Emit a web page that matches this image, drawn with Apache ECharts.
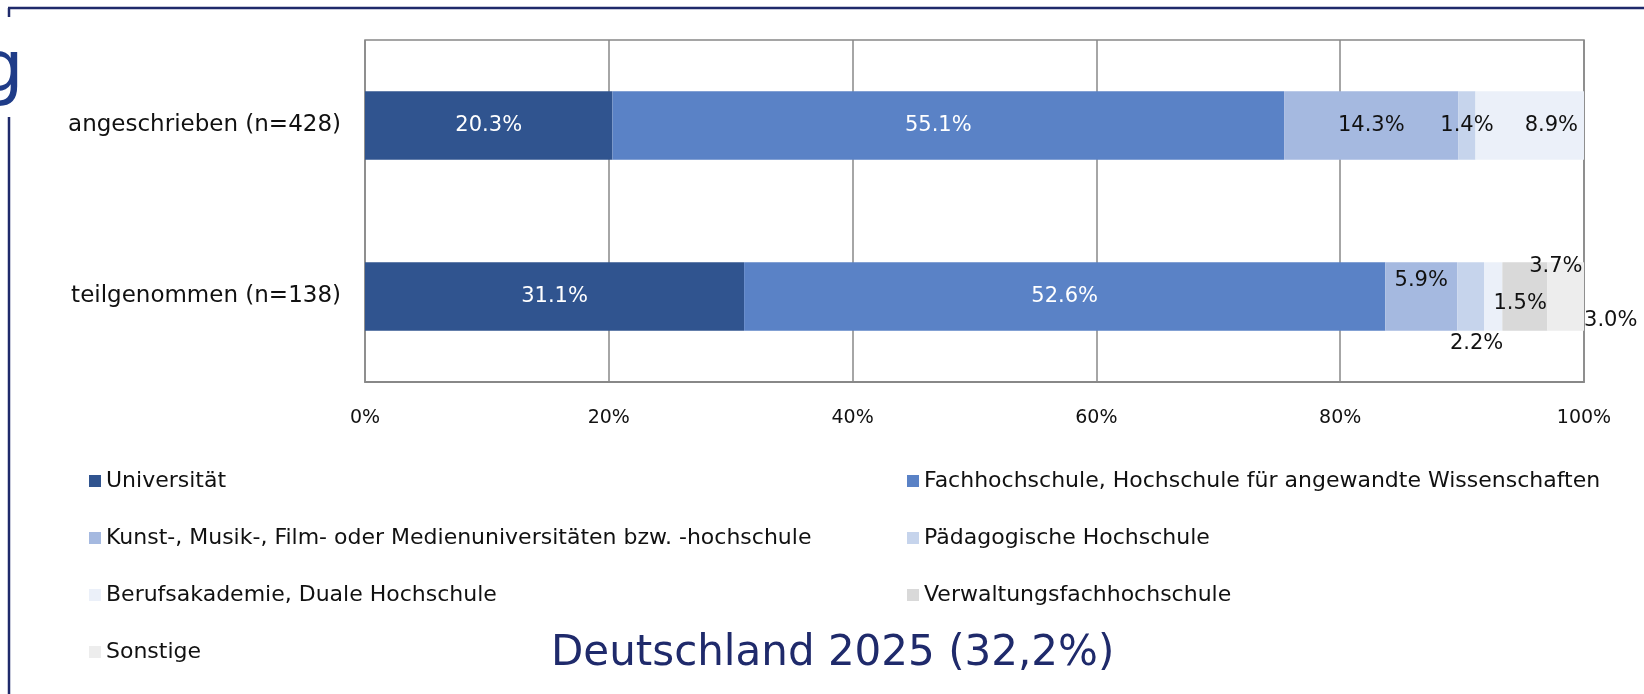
<!DOCTYPE html>
<html>
<head>
<meta charset="utf-8">
<script src="https://cdn.jsdelivr.net/npm/echarts@6/dist/echarts.min.js"></script>
<style>
html,body{margin:0;padding:0;background:#fff;}
#chart{width:1644px;height:694px;}
</style>
</head>
<body>
<div id="chart"></div>
<script>
const categories = ['angeschrieben (n=428)', 'teilgenommen (n=138)'];
const seriesNames = [
  'Universität',
  'Fachhochschule, Hochschule für angewandte Wissenschaften',
  'Kunst-, Musik-, Film- oder Medienuniversitäten bzw. -hochschule',
  'Pädagogische Hochschule',
  'Berufsakademie, Duale Hochschule',
  'Verwaltungsfachhochschule',
  'Sonstige'
];
const universitaet = [20.3, 31.1];
const fachhochschule = [55.1, 52.6];
const kunst = [14.3, 5.9];
const paedagogisch = [1.4, 2.2];
const berufsakademie = [8.9, 1.5];
const verwaltung = [0, 3.7];
const sonstige = [0, 3.0];
const xTicks = [0, 20, 40, 60, 80, 100];
const chartTitle = 'Deutschland 2025 (32,2%)';

const colors = ['#30548F', '#5A82C6', '#A5B9E0', '#C6D4EC', '#EBF0F9', '#D9D9D9', '#EDEDED'];
const labelColors = ['#ffffff', '#ffffff', '#111', '#111', '#111', '#111', '#111'];
const values = [universitaet, fachhochschule, kunst, paedagogisch, berufsakademie, verwaltung, sonstige];

// per-series, per-category label adjustments (style only)
const labelTweaks = {
  '1-0': {offset: [-10, 0]},
  '4-0': {position: 'insideRight', distance: 6},
  '2-1': {offset: [0, -16]},
  '3-1': {position: 'bottom', distance: 0, offset: [6, 2]},
  '4-1': {offset: [27, 7]},
  '5-1': {offset: [31, -30]},
  '6-1': {offset: [45, 24]}
};

const FONT = 'DejaVu Sans';

const series = seriesNames.map((name, si) => ({
  name: name,
  type: 'bar',
  stack: 'total',
  barWidth: '40%',
  itemStyle: {color: colors[si]},
  label: {
    show: true,
    position: 'inside',
    color: labelColors[si],
    fontFamily: FONT,
    fontSize: 21,
    formatter: p => p.value > 0 ? p.value.toFixed(1) + '%' : ''
  },
  data: values[si].map((v, ci) => {
    const t = labelTweaks[si + '-' + ci];
    return t ? {value: v, label: t} : v;
  })
}));

const legendText = {fontFamily: FONT, fontSize: 22, color: '#111', lineHeight: 24};

const option = {
  animation: false,
  backgroundColor: '#ffffff',
  color: colors,
  title: {
    text: chartTitle,
    left: 546,
    top: 628,
    textStyle: {fontFamily: FONT, fontSize: 42, fontWeight: 'normal', color: '#1F2A6B'}
  },
  grid: {
    left: 365, right: 60, top: 40, bottom: 312,
    show: true, borderColor: '#888', borderWidth: 1.5, backgroundColor: 'transparent'
  },
  xAxis: {
    type: 'value',
    min: 0, max: 100, interval: 20,
    axisLine: {show: true, lineStyle: {color: '#888', width: 2}},
    axisTick: {show: false},
    splitLine: {show: true, lineStyle: {color: '#888', width: 1.5}},
    axisLabel: {
      fontFamily: FONT, fontSize: 19, color: '#111', margin: 27,
      formatter: v => xTicks.includes(v) ? v + '%' : ''
    }
  },
  yAxis: {
    type: 'category',
    data: categories,
    inverse: true,
    axisLine: {show: false},
    axisTick: {show: false},
    axisLabel: {fontFamily: FONT, fontSize: 23, color: '#111', margin: 24}
  },
  legend: [
    {
      orient: 'vertical', left: 84, top: 464, itemWidth: 12, itemHeight: 12, itemGap: 33,
      icon: 'rect', textStyle: legendText, selectedMode: false,
      data: [seriesNames[0], seriesNames[2], seriesNames[4], seriesNames[6]]
    },
    {
      orient: 'vertical', left: 902, top: 464, itemWidth: 12, itemHeight: 12, itemGap: 33,
      icon: 'rect', textStyle: legendText, selectedMode: false,
      data: [seriesNames[1], seriesNames[3], seriesNames[5]]
    }
  ],
  graphic: [
    {type: 'line', shape: {x1: 8, y1: 8, x2: 1644, y2: 8}, style: {stroke: '#1F2A6B', lineWidth: 2.5}, silent: true},
    {type: 'line', shape: {x1: 9, y1: 8, x2: 9, y2: 17}, style: {stroke: '#1F2A6B', lineWidth: 2.5}, silent: true},
    {type: 'line', shape: {x1: 9, y1: 117, x2: 9, y2: 694}, style: {stroke: '#1F2A6B', lineWidth: 2.5}, silent: true},
    {type: 'text', x: -22, y: 36, style: {text: 'g', fontFamily: FONT, fontSize: 72, fill: '#1F3C88'}, silent: true}
  ],
  series: series
};

const chart = echarts.init(document.getElementById('chart'), null, {renderer: 'canvas'});
chart.setOption(option);
</script>
</body>
</html>
